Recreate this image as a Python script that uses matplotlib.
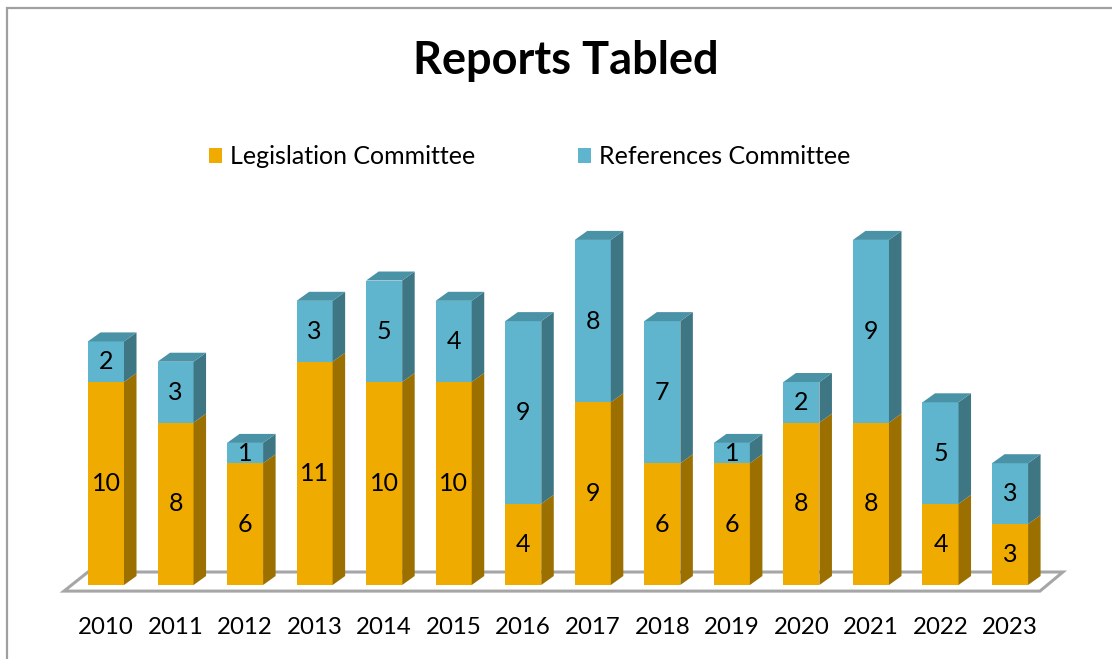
import numpy as np
import matplotlib
matplotlib.use('Agg')
import matplotlib.pyplot as plt
from matplotlib.patches import Polygon, Rectangle, Patch

plt.rcParams['font.family'] = ['Lato', 'DejaVu Sans']

# Datos
years = ['2010', '2011', '2012', '2013', '2014', '2015', '2016',
         '2017', '2018', '2019', '2020', '2021', '2022', '2023']
legislation = [10, 8, 6, 11, 10, 10, 4, 9, 6, 6, 8, 8, 4, 3]
references = [2, 3, 1, 3, 5, 4, 9, 8, 7, 1, 2, 9, 5, 3]

series = [
    ('Legislation Committee', legislation, '#F0AB00', '#9C7000', '#C48C00'),
    ('References Committee', references, '#5FB5CD', '#3F7684', '#4A92A5'),
]

fig = plt.figure(figsize=(11.12, 6.59), dpi=100)
ax = fig.add_axes([0, 0, 1, 1])
ax.set_xlim(-1.524, 14.466)
ax.set_ylim(-3.645, 28.818)
ax.axis('off')

# marco gris
fig.patches.append(Rectangle((7 / 1112, -0.05), 1.2, (659 - 8) / 659 + 0.05,
                             transform=fig.transFigure, fill=False,
                             edgecolor='#A0A0A0', linewidth=1.6))

# piso
floor = Polygon([(-0.604, -0.3), (13.43, -0.3), (13.76, 0.64), (-0.259, 0.64)],
                closed=True, facecolor='white', edgecolor='#A6A6A6', linewidth=2.2)
ax.add_patch(floor)

w = 0.518
dx, dy = 0.18, 0.443

for i, yr in enumerate(years):
    xl, xr = i - w / 2, i + w / 2
    bottom = 0
    top_color = None
    for name, vals, front, side, top in series:
        v = vals[i]
        if v <= 0:
            continue
        y0, y1 = bottom, bottom + v
        ax.add_patch(Rectangle((xl, y0), w, v, facecolor=front, edgecolor='none'))
        ax.add_patch(Polygon([(xr, y0), (xr + dx, y0 + dy), (xr + dx, y1 + dy), (xr, y1)],
                             closed=True, facecolor=side, edgecolor='none'))
        ax.text(i, (y0 + y1) / 2, str(v), ha='center', va='center', fontsize=18, color='black')
        bottom = y1
        top_color = top
    ax.add_patch(Polygon([(xl, bottom), (xl + dx, bottom + dy), (xr + dx, bottom + dy), (xr, bottom)],
                         closed=True, facecolor=top_color, edgecolor='none'))
    ax.text(i, -2.07, yr, ha='center', va='center', fontsize=17.3, color='black')

ax.set_title('Reports Tabled', fontsize=32.5, fontweight='bold', x=0.509, y=0.875)

handles = [Patch(facecolor=s[2], edgecolor='none') for s in series]
ax.legend(handles, [s[0] for s in series], loc='center', bbox_to_anchor=(0.4766, 0.762),
          ncol=2, frameon=False, fontsize=18, handlelength=0.5, handleheight=0.5,
          handletextpad=0.35, columnspacing=4.1)

fig.savefig('out.png', dpi=100)
